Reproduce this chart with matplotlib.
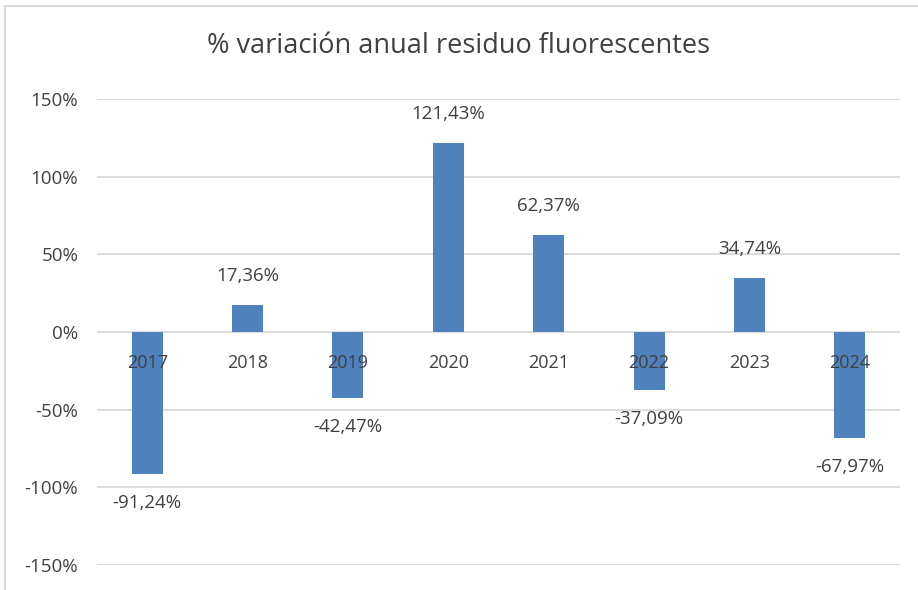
import matplotlib
matplotlib.use("Agg")
import matplotlib.pyplot as plt
from matplotlib.patches import Rectangle
from matplotlib.ticker import FuncFormatter, MultipleLocator

years = ["2017", "2018", "2019", "2020", "2021", "2022", "2023", "2024"]
variation = [-91.24, 17.36, -42.47, 121.43, 62.37, -37.09, 34.74, -67.97]
title = "% variación anual residuo fluorescentes"

plt.rcParams['font.family'] = ['Open Sans', 'DejaVu Sans']
text_color = "#404040"
bar_color = "#4F81BD"
grid_color = "#D9D9D9"

fig = plt.figure(figsize=(9.18, 5.90), dpi=100)
ax = fig.add_axes([97/918, 1 - 565/590, (900-97)/918, (565-99)/590])

x = list(range(len(years)))
ax.bar(x, variation, width=0.31, color=bar_color, zorder=3)
ax.set_xlim(-0.5, len(years) - 0.5)
ax.set_ylim(-150, 150)
ax.yaxis.set_major_locator(MultipleLocator(50))
ax.yaxis.set_major_formatter(FuncFormatter(lambda v, p: f"{v:.0f}%"))
ax.grid(axis='y', color=grid_color, linewidth=1.3, zorder=0)
for s in ax.spines.values():
    s.set_visible(False)
ax.tick_params(axis='y', length=0, pad=13.5, labelsize=13.5, labelcolor=text_color)
ax.set_xticks([])

# category labels near zero line
for xi, lab in zip(x, years):
    ax.annotate(lab, (xi, 0), xytext=(0, -29), textcoords='offset points',
                ha='center', va='bottom', fontsize=13, color=text_color, zorder=4)

# data labels
for xi, v in zip(x, variation):
    txt = f"{v:.2f}%".replace('.', ',')
    off = 21 if v >= 0 else -21
    ax.annotate(txt, (xi, v), xytext=(0, off), textcoords='offset points',
                ha='center', va='center', fontsize=13.5, color=text_color, zorder=4)

fig.text(0.5, 1 - 46/590, title, ha='center', va='center', fontsize=19.5, color=text_color)

fig.patches.append(Rectangle((5/918, -0.1), 1.2, 1 - 6/590 + 0.1, transform=fig.transFigure,
                             fill=False, edgecolor=grid_color, linewidth=1.5))

fig.savefig("out.png", dpi=100, facecolor='white')
